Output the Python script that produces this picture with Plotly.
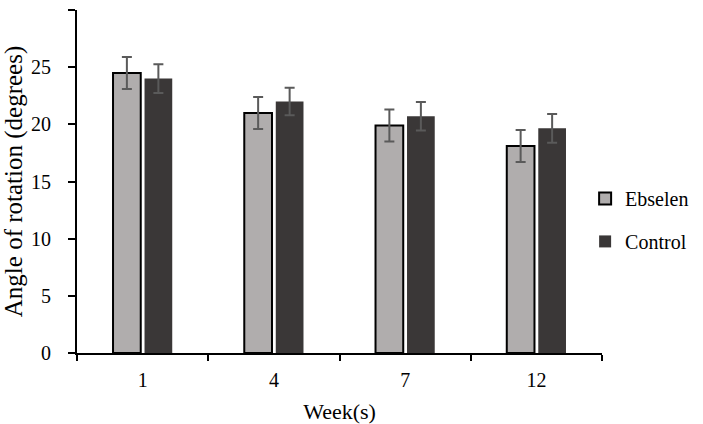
import plotly.graph_objects as go

weeks = ["1", "4", "7", "12"]
ebselen = [24.5, 21.0, 19.9, 18.1]
ebselen_err = [1.4, 1.4, 1.4, 1.4]
control = [24.0, 22.0, 20.7, 19.65]
control_err = [1.25, 1.2, 1.25, 1.25]

ff = "'Times New Roman', 'Liberation Serif', 'DejaVu Serif', serif"

fig = go.Figure()
fig.add_trace(go.Bar(
    x=weeks, y=ebselen, name="Ebselen", legendgroup="a",
    marker=dict(color="#b0adad", line=dict(color="#000000", width=2)),
    error_y=dict(type="data", array=ebselen_err, color="#5a5a5a", thickness=2, width=5),
))
fig.add_trace(go.Bar(
    x=weeks, y=control, name="Control", legendgroup="b",
    marker=dict(color="#3a3737", line=dict(color="#3a3737", width=0)),
    error_y=dict(type="data", array=control_err, color="#5a5a5a", thickness=2, width=5),
))

fig.update_layout(
    width=703, height=424,
    margin=dict(l=77, r=100, t=10, b=71),
    paper_bgcolor="white", plot_bgcolor="white",
    font=dict(family=ff, size=20, color="#000000"),
    barmode="group", bargap=0.52, bargroupgap=0.12,
    showlegend=True,
    legend=dict(x=0.966, y=0.388, xanchor="left", yanchor="middle",
                font=dict(family=ff, size=20, color="#000000"), tracegroupgap=14,
                bgcolor="rgba(0,0,0,0)", borderwidth=0),
    xaxis=dict(
        title=dict(text="Week(s)", font=dict(family=ff, size=22, color="#000000")),
        showline=True, linecolor="#000000", linewidth=2,
        ticks="outside", ticklen=6, tickcolor="#000000", tickwidth=2,
        tickson="boundaries", showgrid=False, automargin=False,
        tickfont=dict(family=ff, size=20, color="#000000"), ticklabelstandoff=8,
    ),
    yaxis=dict(
        title=dict(text="Angle of rotation (degrees)", font=dict(family=ff, size=25, color="#000000")),
        range=[0, 30], dtick=5,
        showline=True, linecolor="#000000", linewidth=2,
        ticks="outside", ticklen=7, tickcolor="#000000", tickwidth=2,
        showgrid=False, zeroline=False, automargin=False,
        tickfont=dict(family=ff, size=20, color="#000000"), ticklabelstandoff=13,
    ),
)

fig.write_html("out.html", config={"displayModeBar": False},
               post_script="document.body.style.margin='0';")
